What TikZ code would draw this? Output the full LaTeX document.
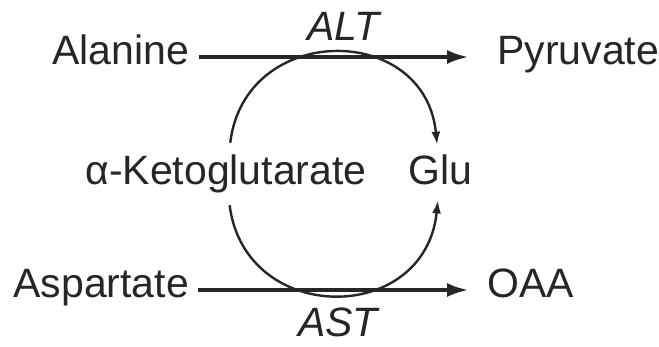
\documentclass[tikz,border=0pt]{standalone}
\usepackage{fontspec}
\setmainfont{Liberation Sans}
\usetikzlibrary{arrows.meta,positioning,calc}
\tikzstyle{metab} = [inner xsep=4.5pt, inner ysep=0pt, text height=11pt, text depth=3pt, anchor=base west, font=\fontsize{20.5}{24}\selectfont]
\tikzstyle{enz} = [inner sep=0pt, text height=11pt, text depth=0pt, font=\fontsize{20.5}{24}\selectfont\itshape]
\tikzstyle{rxn} = [-{Latex[length=11pt,width=7pt]}, line width=2pt]
\tikzstyle{shuttle} = [-{Latex[length=6.5pt,width=4.5pt]}, line width=1.2pt]

\begin{document}
\begin{tikzpicture}[x=0.5pt, y=-0.5pt, black!85]
  \useasboundingbox (0,0) rectangle (659,347);
  % Metabolites
  \node [metab] (ala) at (43,65) {Alanine};
  \node [metab] (pyr) at (488,65) {Pyruvate};
  \node [metab] (akg) at (76,185) {α-Ketoglutarate};
  \node [metab] (glu) at (399,185) {Glu};
  \node [metab] (asp) at (4,298) {Aspartate};
  \node [metab] (oaa) at (478,298) {OAA};

  % Transaminations
  \draw [rxn, shorten >=9.5pt] (ala) -- (pyr) node [enz, midway, above=7pt] {ALT};
  \draw [rxn, shorten >=4.5pt] (asp) -- (oaa) node [enz, midway, below=11.5pt] {AST};

  % Glutamate shuttle
  \draw [shuttle, shorten <=10pt, shorten >=9pt] (akg) .. controls (245,22) and (425,22) .. (glu);
  \draw [shuttle, shorten <=7pt, shorten >=4.5pt] (akg) .. controls (245,326) and (425,326) .. (glu);
\end{tikzpicture}
\end{document}
